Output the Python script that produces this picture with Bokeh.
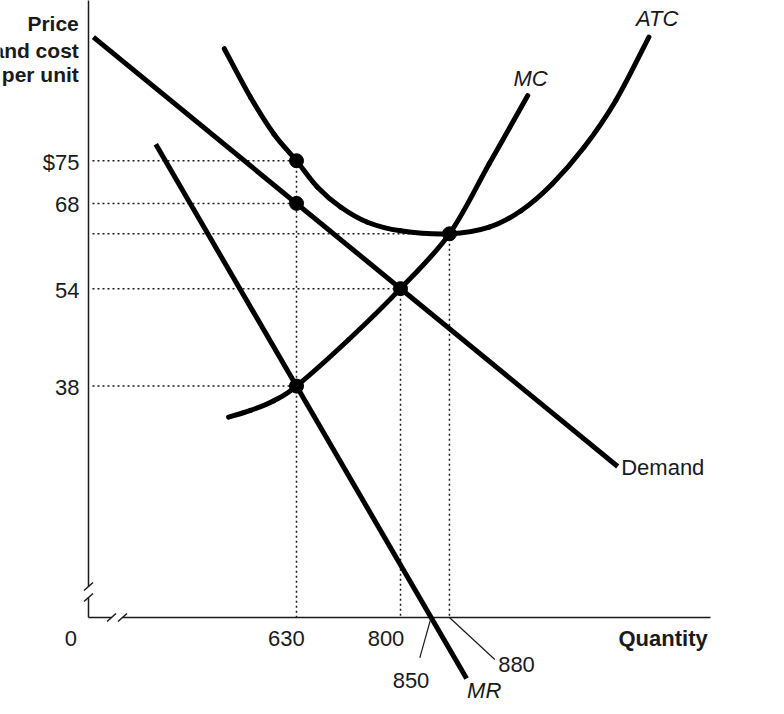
from bokeh.plotting import figure
from bokeh.models import Range1d
from bokeh.core.properties import value
from bokeh.embed import file_html
from bokeh.resources import INLINE

# ---------------- data ----------------
demand_q = [298, 1155]
demand_p = [95.3, 24.8]

mr_q = [400, 908]
mr_p = [77.7, -10.0]

mc_q = [519, 555, 593, 630, 715, 800, 880, 945, 1008]
mc_p = [32.9, 34.0, 35.6, 38.0, 45.6, 54.0, 63.0, 74.5, 85.7]

atc_q = [512, 555, 593, 630, 664, 702, 746, 800, 880, 945, 997, 1048, 1100, 1152, 1206]
atc_p = [93.4, 85.4, 79.4, 75.0, 70.7, 67.4, 64.9, 63.5, 63.0, 64.1, 66.8, 71.2, 77.2, 84.9, 95.3]

point_q = [630, 630, 800, 630, 880]
point_p = [75, 68, 54, 38, 63]

y_ticks = [75, 68, 54, 38]
y_tick_labels = ["$75", "68", "54", "38"]
x_tick_labels = ["630", "800"]
leader_ticks = [850, 880]
leader_labels = ["850", "880"]

# ---------------- layout helpers (reference pixels -> data) ----------------
PX_PER_Q = 0.6118
PX_PER_P = 6.09


def qx(px):
    return 630 + (px - 296) / PX_PER_Q


def py(y):
    return (617 - y) / PX_PER_P


def smooth(xs, ys):
    """Catmull-Rom through the read points, as cubic Bezier pieces."""
    n = len(xs)
    out = {k: [] for k in ("x0", "y0", "x1", "y1", "cx0", "cy0", "cx1", "cy1")}
    for i in range(n - 1):
        a = max(i - 1, 0)
        d = min(i + 2, n - 1)
        out["x0"].append(xs[i]); out["y0"].append(ys[i])
        out["x1"].append(xs[i + 1]); out["y1"].append(ys[i + 1])
        out["cx0"].append(xs[i] + (xs[i + 1] - xs[a]) / 6)
        out["cy0"].append(ys[i] + (ys[i + 1] - ys[a]) / 6)
        out["cx1"].append(xs[i + 1] - (xs[d] - xs[i]) / 6)
        out["cy1"].append(ys[i + 1] - (ys[d] - ys[i]) / 6)
    return out


FONT = value("Liberation Sans")
INK = "#1a1a1a"
FS = "22px"

p = figure(width=776, height=706,
           x_range=Range1d(qx(0), qx(776)), y_range=Range1d(py(706), py(0)),
           output_backend="svg", toolbar_location=None, min_border=0,
           x_axis_location=None, y_axis_location=None)
p.grid.grid_line_color = None
p.outline_line_color = None
p.background_fill_color = "white"

q_axis = qx(88)

# ---------------- axes with break marks ----------------
p.segment(x0=[q_axis, q_axis, q_axis, qx(122)],
          y0=[py(-2), py(597), 0, 0],
          x1=[q_axis, q_axis, qx(111), qx(710)],
          y1=[py(586), 0, 0, 0],
          line_width=1.5, line_color=INK)
cx = [88, 88, 111, 122]
cy = [586, 597, 617, 617]
p.segment(x0=[qx(c - 4.5) for c in cx], y0=[py(c + 4) for c in cy],
          x1=[qx(c + 4.5) for c in cx], y1=[py(c - 4) for c in cy],
          line_width=1.5, line_color=INK)

# ---------------- dotted guides ----------------
q_start = qx(92)
p.segment(x0=[q_start] * len(point_q), y0=point_p, x1=point_q, y1=point_p,
          line_width=1.5, line_dash="2 3", line_color=INK)
vq = [630, 800, 880]
vp = [75, 54, 63]
p.segment(x0=vq, y0=vp, x1=vq, y1=[0] * len(vq),
          line_width=1.5, line_dash="2 3", line_color=INK)

# ---------------- curves ----------------
for xs, ys in [(demand_q, demand_p), (mr_q, mr_p)]:
    p.line(xs, ys, line_width=5, line_color="black", line_cap="butt")
for xs, ys in [(mc_q, mc_p), (atc_q, atc_p)]:
    p.bezier(line_width=5, line_color="black", line_cap="round", **smooth(xs, ys))

p.scatter(point_q, point_p, size=14, color="black")

# ---------------- leaders for 850 / 880 ----------------
p.segment(x0=leader_ticks, y0=[0, 0], x1=[qx(419.3), qx(494.3)], y1=[py(657.3), py(659)],
          line_width=1.2, line_color=INK)

# ---------------- texts ----------------
p.text(x=[qx(79)] * 4, y=[t - 0.25 for t in y_ticks], text=y_tick_labels,
       text_font=FONT, text_font_size=FS, text_align="right",
       text_baseline="middle", text_color=INK)
p.text(x=[qx(70.3), qx(285.8), qx(385.5)], y=[py(638.3)] * 3,
       text=["0"] + x_tick_labels,
       text_font=FONT, text_font_size=FS, text_align="center",
       text_baseline="middle", text_color=INK)
p.text(x=[qx(410.5), qx(516)], y=[py(679.5), py(663.8)], text=leader_labels,
       text_font=FONT, text_font_size=FS, text_align="center",
       text_baseline="middle", text_color=INK)
p.text(x=[qx(620.7)], y=[py(467)], text=["Demand"],
       text_font=FONT, text_font_size=FS, text_align="left",
       text_baseline="middle", text_color=INK)
p.text(x=[qx(530), qx(656.7), qx(483.7)], y=[py(77.5), py(18), py(689.5)],
       text=["MC", "ATC", "MR"],
       text_font=FONT, text_font_size=FS, text_font_style="italic",
       text_align="center", text_baseline="middle", text_color=INK)
p.text(x=[qx(618)], y=[py(638)], text=["Quantity"],
       text_font=FONT, text_font_size=FS, text_font_style="bold",
       text_align="left", text_baseline="middle", text_color=INK)
p.text(x=[qx(78.3)] * 3, y=[py(23.3), py(50), py(74)],
       text=["Price", "and cost", "per unit"],
       text_font=FONT, text_font_size="21px", text_font_style="bold",
       text_align="right", text_baseline="alphabetic", text_color=INK)

open("out.html", "w").write(file_html(p, INLINE))
